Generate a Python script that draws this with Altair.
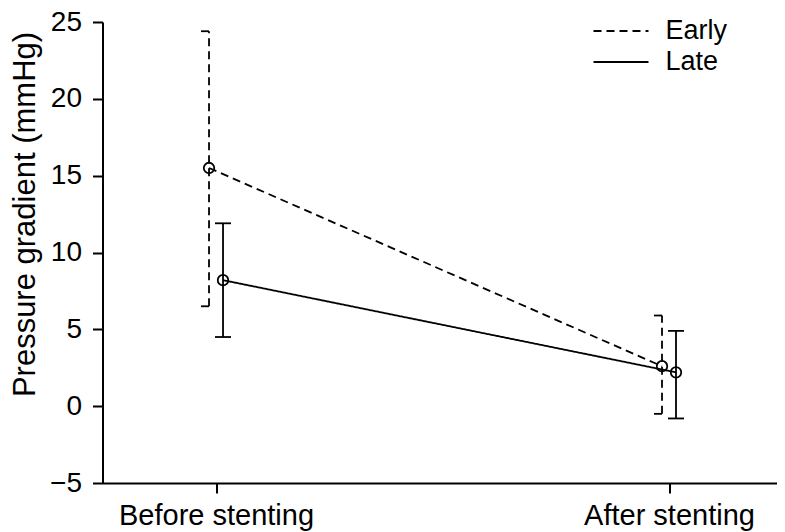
import json
import altair as alt
import pandas as pd

categories = ["Before stenting", "After stenting"]
series = ["Early", "Late"]
early_mean = [15.5, 2.6]
early_lo = [6.5, -0.5]
early_hi = [24.4, 5.9]
late_mean = [8.2, 2.2]
late_lo = [4.5, -0.8]
late_hi = [11.9, 4.9]
y_ticks = [-5, 0, 5, 10, 15, 20, 25]

rows = []
for s, m, lo, hi in [("Early", early_mean, early_lo, early_hi),
                     ("Late", late_mean, late_lo, late_hi)]:
    for i, c in enumerate(categories):
        rows.append({"t": i, "cat": c, "series": s, "mean": m[i], "lo": lo[i], "hi": hi[i]})
df = pd.DataFrame(rows)

FONT = "Liberation Sans"
W, H = 674.5, 461
LW = 1.8

label_expr = json.dumps(categories) + "[datum.value]"
x_enc = alt.X("t:Q",
              scale=alt.Scale(domain=[-0.2506, 1.2384], nice=False, zero=False),
              axis=alt.Axis(values=[0, 1], labelExpr=label_expr, title=None,
                            tickSize=10, labelPadding=8, labelFontSize=29,
                            labelLimit=0))
y_scale = alt.Scale(domain=[-5, 25], nice=False, zero=False)

base = alt.Chart(df)
dash_scale = alt.Scale(domain=series, range=[[8, 5], [1, 0]])
legend = alt.Legend(title=None, orient="none", legendX=490, legendY=-5,
                    symbolType="stroke", symbolSize=3025, symbolStrokeWidth=LW,
                    symbolStrokeColor="black", clipHeight=28, rowPadding=3,
                    labelFontSize=27, labelOffset=16, padding=0, labelFont=FONT,
                    labelColor="black")

style = {"Early": {"off": -7, "dash": [8, 5], "cap": (-15, -7)},
         "Late": {"off": 7, "dash": [1, 0], "cap": (-1, 15)}}

layers = []
for s in series:
    st = style[s]
    b = base.transform_filter(alt.datum.series == s)
    line = b.mark_line(xOffset=st["off"], color="black", strokeWidth=LW).encode(
        x=x_enc,
        y=alt.Y("mean:Q", scale=y_scale,
                axis=alt.Axis(values=y_ticks, title="Pressure gradient (mmHg)",
                              tickSize=10, labelPadding=11, labelFontSize=28,
                              titleFontSize=31, titleFontWeight="normal",
                              titleX=-61, titleY=192)),
        strokeDash=alt.StrokeDash("series:N", scale=dash_scale, legend=legend),
    )
    err = b.mark_rule(xOffset=st["off"], color="black", strokeWidth=LW,
                      strokeDash=st["dash"]).encode(
        x="t:Q", y="lo:Q", y2="hi:Q")
    cap_hi = b.mark_rule(xOffset=st["cap"][0], x2Offset=st["cap"][1],
                         color="black", strokeWidth=LW).encode(
        x="t:Q", x2="t:Q", y="hi:Q")
    cap_lo = b.mark_rule(xOffset=st["cap"][0], x2Offset=st["cap"][1],
                         color="black", strokeWidth=LW).encode(
        x="t:Q", x2="t:Q", y="lo:Q")
    pts = b.mark_point(xOffset=st["off"], shape="circle", filled=False, size=110,
                       color="black", strokeWidth=LW, opacity=1).encode(
        x="t:Q", y="mean:Q")
    layers += [line, err, cap_hi, cap_lo, pts]

chart = alt.layer(*layers).properties(
    width=W, height=H,
    autosize=alt.AutoSizeParams(type="none"),
    padding={"left": 94.5, "top": 14, "right": 0, "bottom": 48},
).configure_view(stroke=None).configure_axis(
    grid=False, domainColor="black", domainWidth=2, tickColor="black", tickWidth=2,
    labelColor="black", titleColor="black", labelFont=FONT, titleFont=FONT,
)

chart.save("out.html", embed_options={"renderer": "svg", "actions": False})
